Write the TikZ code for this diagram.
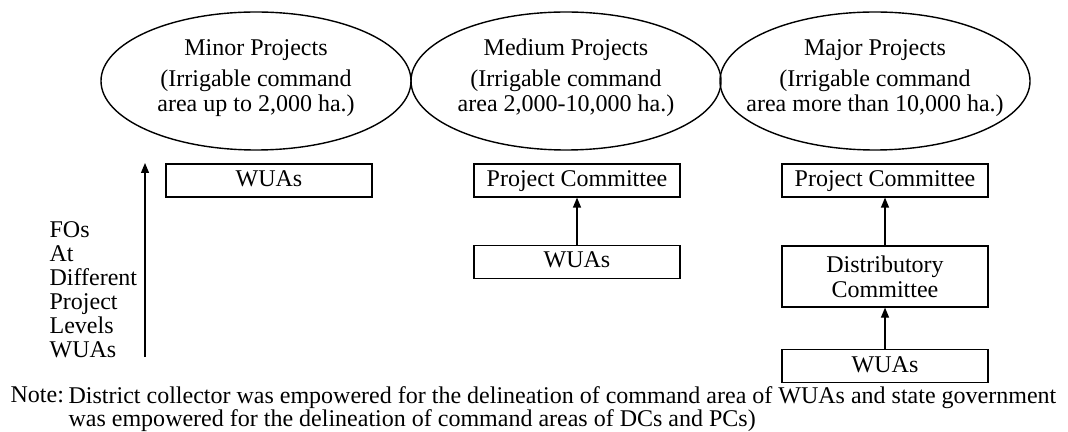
\documentclass[tikz,border=0pt]{standalone}
\usepackage{fontspec}
\setmainfont{Liberation Serif}
\usetikzlibrary{arrows.meta}
\begin{document}
\begin{tikzpicture}[x=0.5pt,y=-0.5pt, line width=0.6pt,
    font=\fontsize{12}{12.5}\selectfont,
    proj/.style = {align=center, inner sep=0pt},
    ring/.style = {line width=0.7pt, x radius=77.5pt, y radius=34.5pt},
    fobox/.style = {draw, minimum width=103pt, minimum height=16.5pt, align=center, inner sep=1pt},
    onebox/.style = {fobox, text height=8.5pt, text depth=2.5pt},
    up/.style = {-{Triangle[length=5pt,width=4pt]}}]
    \useasboundingbox (0,0) rectangle (1068,432);
    % project classes
    \node[proj] (minor) at (256,78) {Minor Projects\\[3pt](Irrigable command\\area up to 2,000 ha.)};
    \node[proj] (medium) at (566,78) {Medium Projects\\[3pt](Irrigable command\\area 2,000-10,000 ha.)};
    \node[proj] (major) at (875,78) {Major Projects\\[3pt](Irrigable command\\area more than 10,000 ha.)};
    \draw[ring] (256,81) ellipse [];
    \draw[ring] (566,81) ellipse [];
    \draw[ring] (875,81) ellipse [];
    % FOs at each level
    \node[onebox] (minwua) at (269,180.5) {WUAs};
    \node[onebox] (medpc) at (577,180.5) {Project Committee};
    \node[onebox] (medwua) at (577,262) {WUAs};
    \node[onebox] (majpc) at (885,180.5) {Project Committee};
    \node[fobox, minimum height=30.5pt] (majdc) at (885,276.5) {Distributory\\Committee};
    \node[onebox] (majwua) at (885,366) {WUAs};
    \draw[up] (medwua) -- (medpc);
    \draw[up] (majwua) -- (majdc);
    \draw[up] (majdc) -- (majpc);
    % level axis
    \node[anchor=west, align=left, inner sep=0pt, font=\fontsize{12}{12}\selectfont] (levels) at (49,290) {FOs\\At\\Different\\Project\\Levels\\WUAs};
    \coordinate (axbot) at (145,357);
    \coordinate (axtop) at (145,163);
    \draw[up] (axbot) -- (axtop);
    % note
    \node[anchor=base west, inner sep=0pt] (notelbl) at (10,402) {Note:};
    \node[anchor=base west, inner sep=0pt, align=left, font=\fontsize{12}{11.5}\selectfont] (notetxt) at (68,426) {District collector was empowered for the delineation of command area of WUAs and state government\\was empowered for the delineation of command areas of DCs and PCs)};
\end{tikzpicture}
\end{document}
